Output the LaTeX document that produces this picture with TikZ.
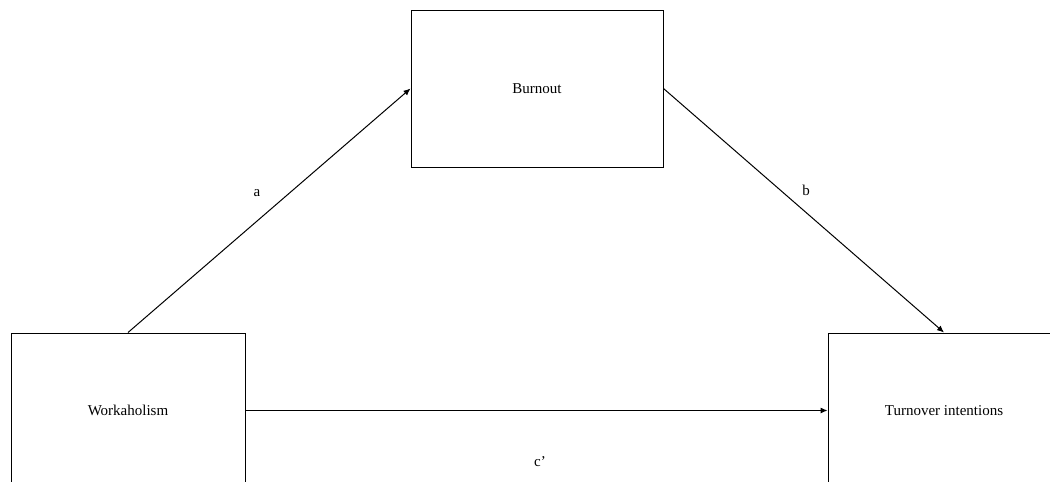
\documentclass[tikz,border=0pt]{standalone}
\usepackage{fontspec}
\setmainfont{Liberation Serif}
\usetikzlibrary{arrows.meta}
\begin{document}
\begin{tikzpicture}[x=1pt,y=-1pt,
  box/.style={draw=black,line width=1pt,rectangle,inner sep=0pt,font=\fontsize{15}{18}\selectfont},
  conn/.style={draw=black,line width=1pt,-{Latex[length=7pt,width=6pt]}},
  lab/.style={font=\fontsize{15}{18}\selectfont,inner sep=0pt}]
\useasboundingbox (0,0) rectangle (1050,482);
\clip (0,0) rectangle (1050,482);
\fill[white] (0,0) rectangle (1050,482);
\node[box,minimum width=252pt,minimum height=157pt] (B) at (537,88.5) {Burnout};
\node[box,minimum width=234pt,minimum height=155pt] (W) at (128,410.5) {Workaholism};
\node[box,minimum width=232pt,minimum height=155pt] (T) at (944,410.5) {Turnover intentions};
\draw[conn] (W.north) -- (B.west);
\draw[conn] (B.east) -- (T.north);
\draw[conn] (W.east) -- (T.west);
\node[lab] (la) at (257,193) {a};
\node[lab] (lb) at (806,190) {b};
\node[lab] (lc) at (540,462) {c’};
\end{tikzpicture}
\end{document}
